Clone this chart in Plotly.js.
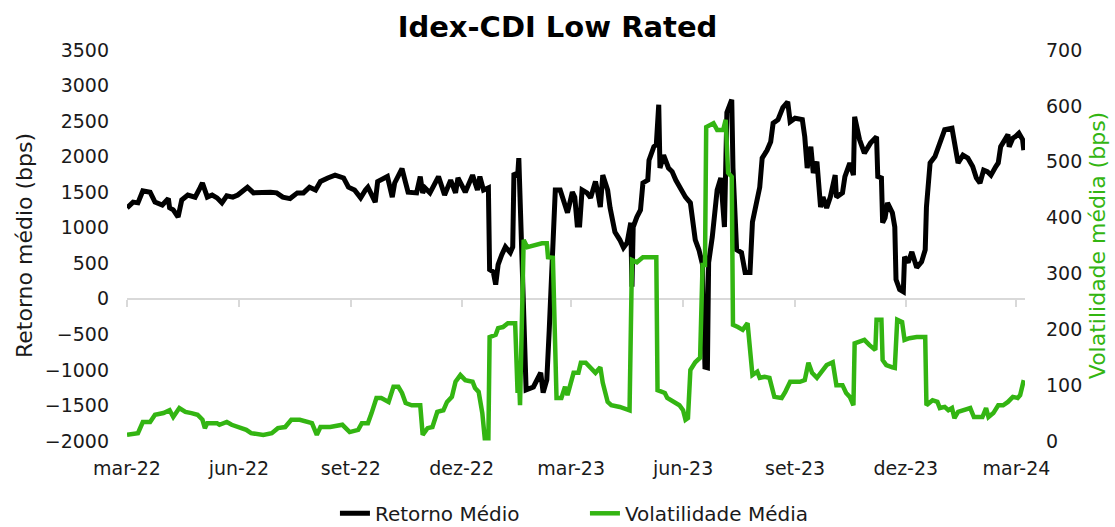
<!DOCTYPE html>
<html>
<head>
<meta charset="utf-8">
<script src="https://cdn.plot.ly/plotly-3.0.1.min.js"></script>
<style>
html,body{margin:0;padding:0;background:#fff;}
#chart{width:1115px;height:527px;}
</style>
</head>
<body>
<div id="chart"></div>
<script>
// ---- Data ----
const retDates = ['2022-03-01','2022-03-06','2022-03-10','2022-03-14','2022-03-20','2022-03-24','2022-03-30','2022-04-04','2022-04-05','2022-04-08','2022-04-12','2022-04-15','2022-04-20','2022-04-26','2022-04-30','2022-05-02','2022-05-06','2022-05-10','2022-05-14','2022-05-18','2022-05-22','2022-05-27','2022-05-31','2022-06-08','2022-06-13','2022-06-21','2022-06-27','2022-07-02','2022-07-07','2022-07-13','2022-07-19','2022-07-24','2022-07-29','2022-08-03','2022-08-07','2022-08-13','2022-08-19','2022-08-26','2022-08-30','2022-09-04','2022-09-09','2022-09-13','2022-09-15','2022-09-21','2022-09-23','2022-10-01','2022-10-05','2022-10-07','2022-10-13','2022-10-16','2022-10-18','2022-10-25','2022-10-28','2022-10-30','2022-11-01','2022-11-05','2022-11-12','2022-11-17','2022-11-22','2022-11-26','2022-11-28','2022-12-04','2022-12-10','2022-12-14','2022-12-16','2022-12-19','2022-12-23','2022-12-24','2022-12-27','2022-12-29','2022-12-31','2023-01-03','2023-01-06','2023-01-10','2023-01-12','2023-01-13','2023-01-16','2023-01-17','2023-01-23','2023-01-29','2023-02-04','2023-02-06','2023-02-09','2023-02-11','2023-02-16','2023-02-20','2023-02-26','2023-03-02','2023-03-04','2023-03-06','2023-03-08','2023-03-10','2023-03-14','2023-03-17','2023-03-21','2023-03-23','2023-03-25','2023-03-27','2023-03-31','2023-04-02','2023-04-06','2023-04-10','2023-04-13','2023-04-16','2023-04-19','2023-04-20','2023-04-21','2023-04-24','2023-04-27','2023-04-29','2023-05-03','2023-05-04','2023-05-08','2023-05-10','2023-05-12','2023-05-13','2023-05-16','2023-05-20','2023-05-23','2023-05-26','2023-05-28','2023-05-31','2023-06-03','2023-06-07','2023-06-09','2023-06-11','2023-06-14','2023-06-17','2023-06-19','2023-06-21','2023-06-22','2023-06-25','2023-06-29','2023-07-02','2023-07-05','2023-07-07','2023-07-11','2023-07-12','2023-07-15','2023-07-19','2023-07-22','2023-07-26','2023-07-28','2023-07-30','2023-08-03','2023-08-05','2023-08-09','2023-08-12','2023-08-14','2023-08-18','2023-08-22','2023-08-26','2023-08-28','2023-09-01','2023-09-07','2023-09-09','2023-09-11','2023-09-14','2023-09-16','2023-09-19','2023-09-22','2023-09-24','2023-09-27','2023-09-30','2023-10-04','2023-10-05','2023-10-10','2023-10-12','2023-10-16','2023-10-19','2023-10-20','2023-10-24','2023-10-28','2023-11-02','2023-11-07','2023-11-08','2023-11-11','2023-11-12','2023-11-14','2023-11-16','2023-11-20','2023-11-22','2023-11-23','2023-11-26','2023-11-29','2023-11-30','2023-12-03','2023-12-06','2023-12-10','2023-12-14','2023-12-17','2023-12-18','2023-12-21','2023-12-25','2023-12-27','2023-12-29','2024-01-02','2024-01-08','2024-01-11','2024-01-13','2024-01-17','2024-01-21','2024-01-25','2024-01-28','2024-01-31','2024-02-03','2024-02-06','2024-02-09','2024-02-13','2024-02-15','2024-02-17','2024-02-19','2024-02-23','2024-02-24','2024-02-27','2024-02-29','2024-03-03','2024-03-06','2024-03-07'];
const retValues = [1280,1360,1350,1520,1500,1360,1320,1410,1280,1250,1150,1390,1460,1430,1560,1630,1430,1460,1420,1350,1450,1430,1460,1570,1490,1500,1500,1490,1430,1410,1490,1490,1570,1530,1650,1700,1740,1700,1570,1530,1420,1530,1570,1360,1650,1720,1430,1630,1830,1630,1500,1490,1720,1490,1560,1490,1720,1460,1670,1490,1700,1500,1740,1530,1720,1530,1560,410,380,200,480,620,730,650,730,1770,1720,1980,-1280,-1240,-1040,-1320,-1140,-440,1530,1530,1210,1500,1430,1040,1040,1530,1490,1420,1650,1490,1290,1740,1530,1280,940,830,720,790,1070,170,1010,1150,1250,1630,1670,1950,2140,2170,2730,1840,2020,1840,1790,1670,1600,1500,1430,1350,1010,830,690,480,-960,-970,510,870,1530,1700,1010,2620,2800,1840,690,650,370,370,1080,1250,1570,1980,2090,2210,2470,2520,2690,2770,2490,2540,2520,2280,1840,2140,1770,1930,1290,1430,1280,1430,1740,1430,1490,1720,1910,1740,2560,2240,2050,2190,2280,1720,1700,1070,1140,1350,1210,1010,270,130,100,590,510,660,440,520,690,1290,1910,2000,2090,2170,2380,2400,2120,1910,2020,1980,1860,1700,1630,1810,1790,1740,1860,1910,2140,2190,2310,2140,2260,2280,2330,2240,2090];

const volDates = ['2022-03-01','2022-03-10','2022-03-14','2022-03-20','2022-03-24','2022-03-31','2022-04-05','2022-04-08','2022-04-13','2022-04-18','2022-04-23','2022-04-28','2022-05-02','2022-05-04','2022-05-06','2022-05-14','2022-05-16','2022-05-22','2022-05-26','2022-06-02','2022-06-07','2022-06-11','2022-06-21','2022-06-28','2022-07-03','2022-07-09','2022-07-14','2022-07-21','2022-07-27','2022-07-31','2022-08-04','2022-08-07','2022-08-15','2022-08-25','2022-08-31','2022-09-07','2022-09-10','2022-09-15','2022-09-18','2022-09-22','2022-09-26','2022-10-02','2022-10-06','2022-10-10','2022-10-13','2022-10-16','2022-10-21','2022-10-28','2022-10-30','2022-11-03','2022-11-07','2022-11-11','2022-11-16','2022-11-19','2022-11-23','2022-11-26','2022-11-30','2022-12-04','2022-12-10','2022-12-12','2022-12-15','2022-12-18','2022-12-20','2022-12-23','2022-12-24','2022-12-29','2022-12-31','2023-01-04','2023-01-08','2023-01-14','2023-01-16','2023-01-17','2023-01-18','2023-01-19','2023-01-21','2023-01-24','2023-01-30','2023-02-05','2023-02-09','2023-02-10','2023-02-14','2023-02-16','2023-02-17','2023-02-21','2023-02-24','2023-02-26','2023-03-03','2023-03-07','2023-03-09','2023-03-13','2023-03-17','2023-03-21','2023-03-25','2023-03-27','2023-03-31','2023-04-03','2023-04-10','2023-04-14','2023-04-18','2023-04-20','2023-04-24','2023-04-29','2023-05-06','2023-05-10','2023-05-11','2023-05-17','2023-05-19','2023-05-24','2023-05-29','2023-06-01','2023-06-03','2023-06-05','2023-06-07','2023-06-11','2023-06-15','2023-06-17','2023-06-19','2023-06-20','2023-06-26','2023-06-29','2023-07-04','2023-07-06','2023-07-08','2023-07-11','2023-07-12','2023-07-16','2023-07-20','2023-07-24','2023-07-28','2023-08-01','2023-08-03','2023-08-07','2023-08-11','2023-08-15','2023-08-21','2023-08-24','2023-08-28','2023-09-05','2023-09-09','2023-09-12','2023-09-15','2023-09-19','2023-09-23','2023-09-27','2023-10-02','2023-10-05','2023-10-10','2023-10-13','2023-10-16','2023-10-19','2023-10-20','2023-10-24','2023-10-28','2023-11-01','2023-11-06','2023-11-07','2023-11-11','2023-11-12','2023-11-15','2023-11-20','2023-11-22','2023-11-24','2023-11-28','2023-11-30','2023-12-04','2023-12-10','2023-12-17','2023-12-18','2023-12-23','2023-12-27','2023-12-29','2024-01-02','2024-01-05','2024-01-08','2024-01-10','2024-01-13','2024-01-19','2024-01-23','2024-01-26','2024-02-02','2024-02-05','2024-02-07','2024-02-11','2024-02-15','2024-02-19','2024-02-23','2024-02-27','2024-03-02','2024-03-04','2024-03-06','2024-03-07'];
const volValues = [11,14,34,34,47,50,55,43,59,52,50,47,38,23,32,32,29,34,29,23,20,14,11,14,23,25,38,38,34,32,11,25,25,29,16,20,32,32,50,77,77,70,97,97,86,68,64,64,11,23,25,52,55,70,79,106,118,109,106,95,88,50,5,5,186,190,202,204,211,211,86,122,64,199,360,347,351,354,354,329,328,109,77,77,97,82,122,122,140,140,131,122,132,104,70,64,61,59,55,324,320,329,329,329,91,86,77,70,64,55,38,41,127,141,149,315,315,562,569,557,557,575,480,473,208,204,199,211,118,124,113,115,113,79,77,88,106,106,109,140,122,113,124,136,141,100,100,86,79,64,175,177,181,172,163,217,217,145,136,132,131,217,213,181,184,186,186,64,73,70,59,61,55,59,41,52,55,59,43,43,59,43,50,64,64,70,79,77,82,97,109];

const tickDates  = ['2022-03-01','2022-06-01','2022-09-01','2022-12-01','2023-03-01','2023-06-01','2023-09-01','2023-12-01','2024-03-01'];
const tickLabels = ['mar-22','jun-22','set-22','dez-22','mar-23','jun-23','set-23','dez-23','mar-24'];

const seriesNames = ['Retorno Médio','Volatilidade Média'];
const chartTitle = 'Idex-CDI Low Rated';
const leftTitle = 'Retorno médio (bps)';
const rightTitle = 'Volatilidade média (bps)';

// ---- Styling ----
const BLACK = '#000000';
const GREEN = '#33b512';
const FONT = 'DejaVu Sans, sans-serif';
const TXT = '#1a1a1a';

const traces = [
  {x: retDates, y: retValues, name: seriesNames[0], type: 'scatter', mode: 'lines',
   xaxis: 'x', yaxis: 'y', line: {color: BLACK, width: 5}},
  {x: volDates, y: volValues, name: seriesNames[1], type: 'scatter', mode: 'lines',
   xaxis: 'x2', yaxis: 'y2', line: {color: GREEN, width: 4.5}}
];

const layout = {
  width: 1115, height: 527,
  margin: {l: 127, r: 90, t: 50, b: 86},
  paper_bgcolor: '#fff', plot_bgcolor: '#fff',
  font: {family: FONT, size: 19, color: TXT},
  showlegend: true,
  title: {text: '<b>' + chartTitle + '</b>', x: 0.5, xref: 'container', xanchor: 'center',
          y: 0.95, yref: 'container', yanchor: 'middle',
          font: {family: FONT, size: 29, color: '#000', weight: 700}},
  xaxis: {type: 'date', range: ['2022-03-01', '2024-03-08'], automargin: false,
          tickvals: tickDates, ticktext: tickLabels,
          showgrid: false, zeroline: false, showline: false, ticks: '',
          ticklabelstandoff: 14, tickfont: {size: 19, color: TXT}},
  xaxis2: {type: 'date', matches: 'x', overlaying: 'x', anchor: 'free', position: 0.3632,
           automargin: false, tickvals: tickDates, showticklabels: false,
           showgrid: false, zeroline: false, showline: true, linecolor: '#d9d9d9', linewidth: 2,
           ticks: 'outside', ticklen: 7, tickwidth: 2, tickcolor: '#d9d9d9', layer: 'below traces'},
  yaxis: {range: [-2000, 3500], dtick: 500, tick0: 0, showgrid: false, zeroline: false, automargin: false,
          showline: false, ticks: '', ticklabelstandoff: 17, tickfont: {size: 19, color: TXT},
          title: {text: leftTitle, standoff: 6, font: {size: 22, color: TXT}}},
  yaxis2: {range: [0, 700], dtick: 100, tick0: 0, overlaying: 'y', side: 'right', anchor: 'x2', automargin: false,
           showgrid: false, zeroline: false, showline: false, ticks: '',
           ticklabelstandoff: 20, tickfont: {size: 19, color: TXT},
           title: {text: rightTitle, standoff: 8, font: {size: 22, color: GREEN}}},
  legend: {orientation: 'h', x: 0.3004, xanchor: 'left', xref: 'container',
           y: 0.026, yref: 'container', yanchor: 'middle',
           entrywidth: 205, entrywidthmode: 'pixels',
           font: {size: 20, color: TXT}, bgcolor: 'rgba(0,0,0,0)'}
};

Plotly.newPlot('chart', traces, layout, {displayModeBar: false, staticPlot: true});
</script>
</body>
</html>
